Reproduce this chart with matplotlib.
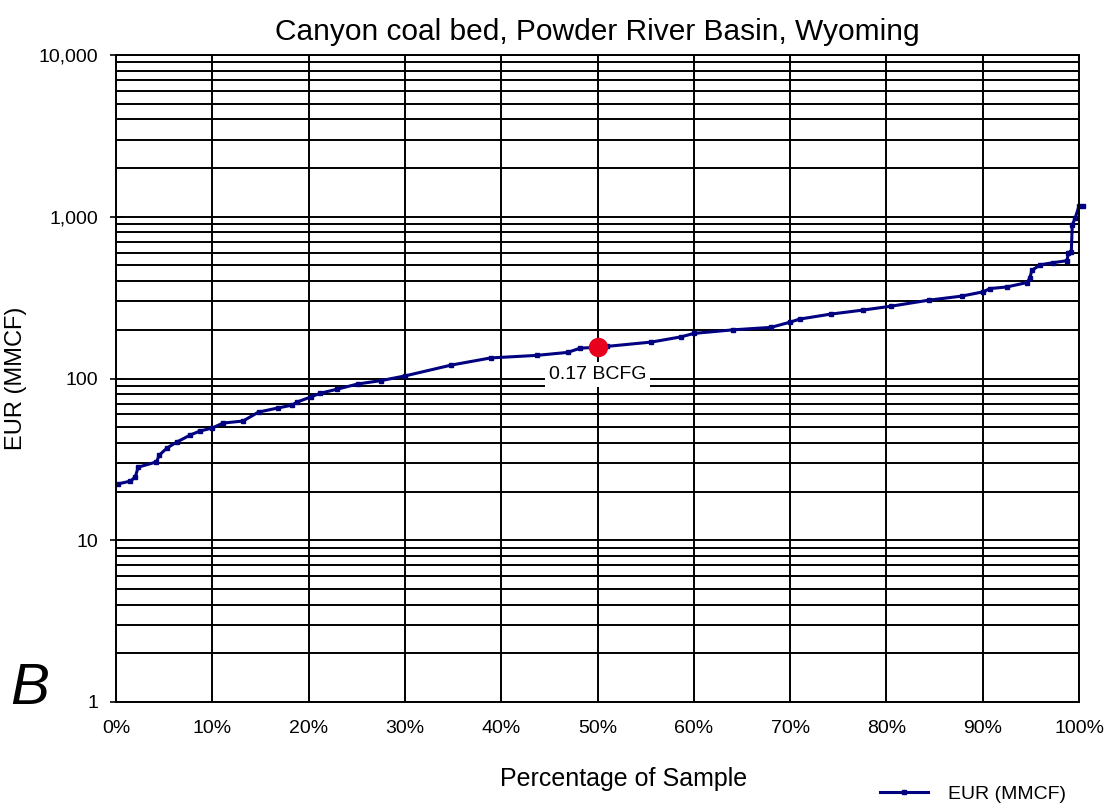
import numpy as np
import matplotlib
matplotlib.use('Agg')
import matplotlib.pyplot as plt
from matplotlib.ticker import LogLocator, FixedLocator, FuncFormatter, NullFormatter

plt.rcParams['font.family'] = ['Liberation Sans', 'DejaVu Sans']

# Werte (Prozent der Stichprobe, EUR in MMCF)
pct = [0.2, 1.5, 2.0, 2.3, 4.2, 4.5, 5.3, 6.3, 7.7, 8.7, 10.0, 11.1, 13.2, 14.8,
       16.8, 18.3, 18.8, 20.2, 21.2, 23.0, 25.1, 27.5, 30.0, 34.8, 38.9, 43.7,
       46.9, 48.2, 50.0, 51.0, 55.6, 58.7, 60.0, 64.1, 68.0, 70.0, 71.0, 74.2,
       77.6, 80.5, 84.4, 87.8, 90.0, 90.8, 92.5, 94.6, 94.9, 95.1, 96.0, 97.3,
       98.75, 98.9, 99.2, 99.3, 99.6, 100.0, 100.4]
eur = [22.3, 23.2, 24.6, 28.3, 30.5, 33.6, 37.2, 40.4, 44.7, 47.3, 49.4, 53, 54.6, 62,
       65.7, 68.5, 71.5, 76.8, 81, 86, 92.5, 97, 103.7, 121, 134, 139,
       145, 154, 156, 158, 168, 181, 190, 200, 207, 223, 233, 250,
       265, 280, 305, 323, 343, 360, 368, 392, 418, 466, 505, 520,
       535, 595, 605, 890, 980, 1165, 1165]

median_pct = 50
median_eur = 157
median_label = '0.17 BCFG'

x_ticks = [0, 10, 20, 30, 40, 50, 60, 70, 80, 90, 100]
y_ticks = [1, 10, 100, 1000, 10000]

fig = plt.figure(figsize=(11.09, 8.08), dpi=100)
ax = fig.add_axes([116 / 1109, 1 - 702 / 808, 963 / 1109, 647 / 808])

ax.plot(pct, eur, color='#000080', lw=2.2, marker='s', ms=2.5, label='EUR (MMCF)', clip_on=False)
ax.plot([median_pct], [median_eur], 'o', color='#e8001c', ms=13, zorder=5)
ax.text(median_pct, 106, median_label, ha='center', va='center', fontsize=14,
        bbox=dict(facecolor='white', edgecolor='none', pad=3))

ax.set_yscale('log')
ax.set_ylim(1, 10000)
ax.set_xlim(0, 100)
ax.yaxis.set_major_locator(FixedLocator(y_ticks))
ax.yaxis.set_major_formatter(FuncFormatter(lambda v, p: f'{int(v):,}'))
ax.yaxis.set_minor_locator(LogLocator(base=10, subs=np.arange(2, 10)))
ax.yaxis.set_minor_formatter(NullFormatter())
ax.xaxis.set_major_locator(FixedLocator(x_ticks))
ax.xaxis.set_major_formatter(FuncFormatter(lambda v, p: f'{int(v)}%'))

ax.grid(True, which='major', axis='both', color='black', lw=1.4)
ax.grid(True, which='minor', axis='y', color='black', lw=1.4)
ax.tick_params(axis='y', which='major', direction='inout', length=8, width=1.2, pad=9, labelsize=14)
ax.tick_params(axis='y', which='minor', length=0)
ax.tick_params(axis='x', length=0, pad=13, labelsize=14)
for s in ax.spines.values():
    s.set_color('black')
    s.set_linewidth(1.4)

ax.set_title('Canyon coal bed, Powder River Basin, Wyoming', fontsize=21.5, pad=11)
ax.set_xlabel('Percentage of Sample', fontsize=18)
ax.xaxis.set_label_coords(0.527, -0.1005)
ax.set_ylabel('EUR (MMCF)', fontsize=17, labelpad=8)

fig.text(10 / 1109, 1 - 704 / 808, 'B', fontsize=42, style='italic', ha='left', va='baseline')

fig.legend(loc='center left', bbox_to_anchor=(862 / 1109, 1 - 794 / 808), frameon=False,
           fontsize=14, handlelength=2.5, handletextpad=1.0)

plt.savefig('out.png', dpi=100)
